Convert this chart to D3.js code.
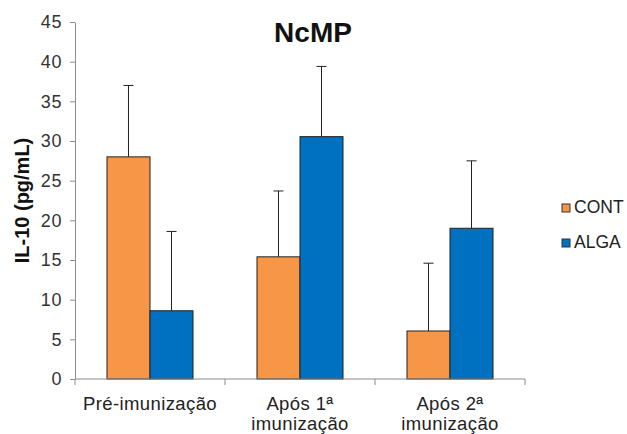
<!DOCTYPE html>
<html>
<head>
<meta charset="utf-8">
<script src="https://cdn.jsdelivr.net/npm/d3@7"></script>
<style>
  body { margin: 0; background: #fff; }
  svg { font-family: "Liberation Sans", Arial, sans-serif; }
</style>
</head>
<body>
<div id="chart"></div>
<script>
// Data
const categories = [["Pré-imunização"], ["Após 1ª", "imunização"], ["Após 2ª", "imunização"]];
const series = ["CONT", "ALGA"];
const contValues = [28, 15.4, 6.05];
const contErrors = [9.0, 8.3, 8.55];
const algaValues = [8.6, 30.55, 19.0];
const algaErrors = [10.0, 8.85, 8.5];
const yTicks = [0, 5, 10, 15, 20, 25, 30, 35, 40, 45];

const colors = { CONT: "#F79646", ALGA: "#0070C0" };

const width = 627, height = 434;
const margin = { left: 75, right: 102, top: 22, bottom: 55 };

const svg = d3.select("#chart").append("svg")
  .attr("width", width)
  .attr("height", height);

const x = d3.scaleBand()
  .domain(d3.range(categories.length))
  .range([margin.left, width - margin.right])
  .padding(0);

const xs = d3.scaleBand()
  .domain(series)
  .range([0, x.bandwidth()])
  .paddingInner(0)
  .paddingOuter(0.744);

const y = d3.scaleLinear()
  .domain([0, 45])
  .range([height - margin.bottom, margin.top]);

// y axis
const yAxis = svg.append("g")
  .attr("transform", `translate(${margin.left},0)`)
  .call(d3.axisLeft(y).tickValues(yTicks).tickSize(5).tickSizeOuter(0).tickPadding(8));
yAxis.select(".domain").attr("stroke", "#8c8c8c");
yAxis.selectAll(".tick line").attr("stroke", "#8c8c8c");
yAxis.selectAll(".tick text")
  .attr("font-size", "18px")
  .attr("fill", "#333")
  .attr("letter-spacing", "0.6px");

// bars
const rows = categories.map((c, i) => ({
  i,
  items: [
    { s: "CONT", v: contValues[i], e: contErrors[i] },
    { s: "ALGA", v: algaValues[i], e: algaErrors[i] }
  ]
}));

const groups = svg.append("g").selectAll("g")
  .data(rows)
  .join("g")
  .attr("transform", d => `translate(${x(d.i)},0)`);

// error bars (drawn behind bars)
groups.selectAll("g.err")
  .data(d => d.items)
  .join("g")
  .attr("class", "err")
  .each(function(d) {
    const g = d3.select(this);
    const cx = xs(d.s) + xs.bandwidth() / 2;
    g.append("line")
      .attr("x1", cx).attr("x2", cx)
      .attr("y1", y(d.v)).attr("y2", y(d.v + d.e))
      .attr("stroke", "#222").attr("stroke-width", 1);
    g.append("line")
      .attr("x1", cx - 5).attr("x2", cx + 5)
      .attr("y1", y(d.v + d.e)).attr("y2", y(d.v + d.e))
      .attr("stroke", "#222").attr("stroke-width", 1);
  });

groups.selectAll("rect")
  .data(d => d.items)
  .join("rect")
  .attr("x", d => xs(d.s))
  .attr("y", d => y(d.v))
  .attr("width", xs.bandwidth())
  .attr("height", d => y(0) - y(d.v))
  .attr("fill", d => colors[d.s])
  .attr("stroke", "#222")
  .attr("stroke-width", 1);

// x axis
const baseY = y(0);
const xAxis = svg.append("g")
  .attr("transform", `translate(0,${baseY})`);
xAxis.append("line")
  .attr("x1", margin.left).attr("x2", width - margin.right)
  .attr("stroke", "#8c8c8c");
const boundaries = x.domain().map(d => x(d)).concat([x.range()[1]]);
xAxis.selectAll("line.tick")
  .data(boundaries)
  .join("line")
  .attr("class", "tick")
  .attr("x1", d => d).attr("x2", d => d)
  .attr("y1", 0).attr("y2", 6)
  .attr("stroke", "#8c8c8c");

xAxis.selectAll("text")
  .data(rows)
  .join("text")
  .attr("x", d => x(d.i) + x.bandwidth() / 2)
  .attr("y", 31)
  .attr("text-anchor", "middle")
  .attr("font-size", "18.5px")
  .attr("fill", "#222")
  .attr("letter-spacing", "0.4px")
  .selectAll("tspan")
  .data(d => categories[d.i])
  .join("tspan")
  .attr("x", function() { return d3.select(this.parentNode).attr("x"); })
  .attr("dy", (d, j) => j === 0 ? 0 : 20)
  .text(d => d);

// title
svg.append("text")
  .attr("x", 313)
  .attr("y", 42)
  .attr("text-anchor", "middle")
  .attr("font-size", "28px")
  .attr("font-weight", "bold")
  .attr("fill", "#111")
  .text("NcMP");

// y label
svg.append("text")
  .attr("transform", `translate(29,${(y(0) + y(45)) / 2}) rotate(-90)`)
  .attr("text-anchor", "middle")
  .attr("font-size", "20px")
  .attr("font-weight", "bold")
  .attr("fill", "#111")
  .text("IL-10 (pg/mL)");

// legend
const legend = svg.append("g")
  .selectAll("g")
  .data(series)
  .join("g")
  .attr("transform", (d, i) => `translate(562,${204 + i * 35})`);
legend.append("rect")
  .attr("width", 8).attr("height", 8)
  .attr("fill", d => colors[d])
  .attr("stroke", "#333");
legend.append("text")
  .attr("x", 12)
  .attr("y", 8.5)
  .attr("font-size", "17.5px")
  .attr("fill", "#222")
  .text(d => d);
</script>
</body>
</html>
